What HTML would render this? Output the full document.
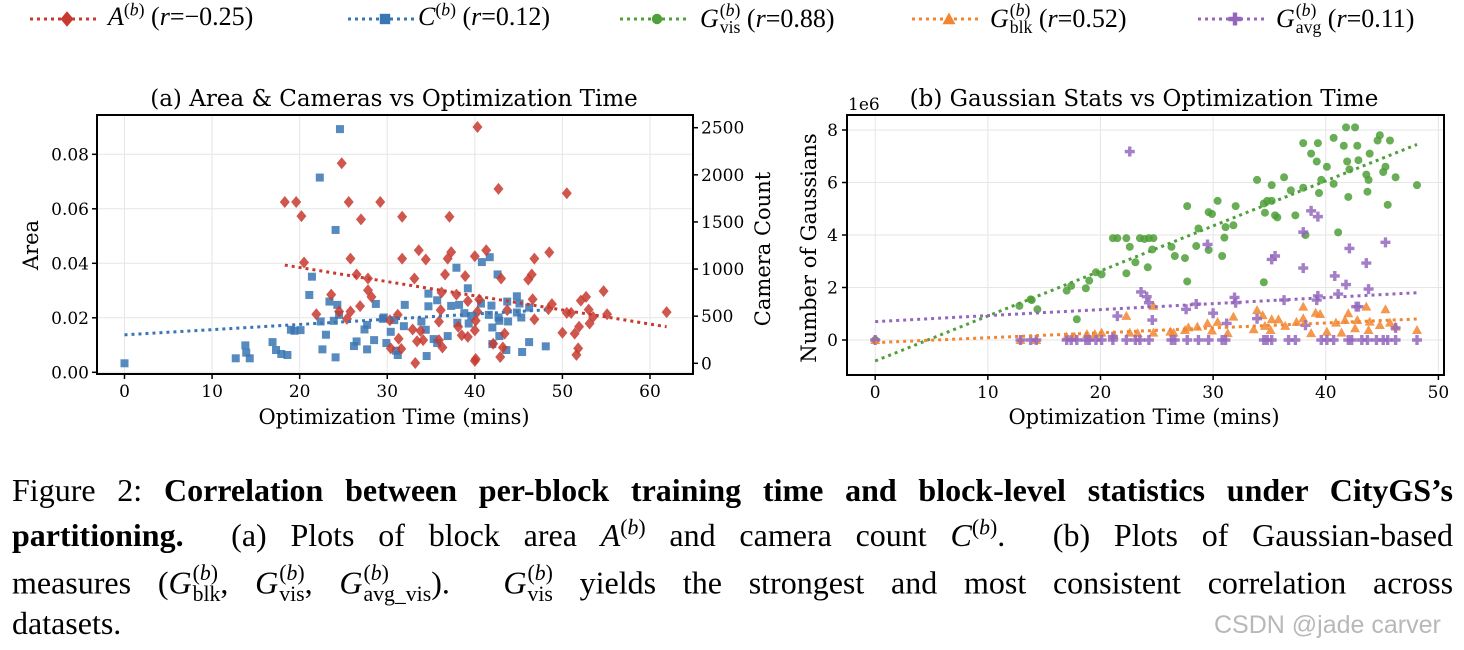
<!DOCTYPE html>
<html><head><meta charset="utf-8">
<style>
body{margin:0;background:#fff;}
#root{position:relative;width:1464px;height:650px;overflow:hidden;background:#fff;font-family:"DejaVu Serif","Liberation Serif",serif;}
.cap{position:absolute;left:12px;width:1441px;font-family:"Liberation Serif",serif;font-size:32px;line-height:32px;white-space:nowrap;color:#000;}
.j{text-align:justify;text-align-last:justify;white-space:normal;}
.st{display:inline-block;vertical-align:-0.32em;line-height:0.95;font-size:0.68em;margin-left:1px;text-align:left;}
.st .u{display:block;font-style:normal;}
.st .l{display:block;font-style:normal;}
sup{font-size:0.68em;line-height:0;}
.leg{position:absolute;top:2px;font-family:"Liberation Serif",serif;font-size:26px;white-space:nowrap;}
</style></head>
<body>
<div id="root">
<svg id="chart" width="1464" height="460" style="position:absolute;left:0;top:0"></svg>

<div class="leg" style="left:108px"><i>A</i><sup>(<i>b</i>)</sup> (<i>r</i>=−0.25)</div>
<div class="leg" style="left:418px"><i>C</i><sup>(<i>b</i>)</sup> (<i>r</i>=0.12)</div>
<div class="leg" style="left:700px"><i>G</i><span class="st"><span class="u">(<i>b</i>)</span><span class="l">vis</span></span> (<i>r</i>=0.88)</div>
<div class="leg" style="left:990px"><i>G</i><span class="st"><span class="u">(<i>b</i>)</span><span class="l">blk</span></span> (<i>r</i>=0.52)</div>
<div class="leg" style="left:1276px"><i>G</i><span class="st"><span class="u">(<i>b</i>)</span><span class="l">avg</span></span> (<i>r</i>=0.11)</div>

<div class="cap j" style="top:474px">Figure 2: <b>Correlation between per-block training time and block-level statistics under CityGS’s</b></div>
<div class="cap j" style="top:519px"><b>partitioning.</b>&nbsp; (a) Plots of block area <i>A</i><sup>(<i>b</i>)</sup> and camera count <i>C</i><sup>(<i>b</i>)</sup>.&nbsp; (b) Plots of Gaussian-based</div>
<div class="cap j" style="top:563px">measures (<i>G</i><span class="st"><span class="u">(<i>b</i>)</span><span class="l">blk</span></span>, <i>G</i><span class="st"><span class="u">(<i>b</i>)</span><span class="l">vis</span></span>, <i>G</i><span class="st"><span class="u">(<i>b</i>)</span><span class="l">avg_vis</span></span>).&nbsp; <i>G</i><span class="st"><span class="u">(<i>b</i>)</span><span class="l">vis</span></span> yields the strongest and most consistent correlation across</div>
<div class="cap" style="top:607px">datasets.</div>
<div style="position:absolute;left:1214px;top:611px;font-family:'Liberation Sans','Noto Sans CJK SC',sans-serif;font-size:25px;color:#b8b8b8;">CSDN @jade carver</div>
</div>
<script>
// ---- Panel (a) data ----
const areaTime=[40.3,24.8,42.7,50.5,18.3,19.6,25.6,29.2,20.2,27,31.7,37.1,33.6,37.3,41.3,48.5,20.5,25.8,31.7,34.4,36.9,40,46.8,26.5,27.8,33.1,36.6,38.9,43,46.5,46.1,23.6,27.8,28.2,36.2,37.9,39.2,40.5,46.6,48.8,52.1,52.7,54.7,21.9,24.5,25.8,26.9,25.4,31.2,36.1,40.3,43.7,48.4,50.5,51,53,53.5,55.1,61.9,30.3,35.9,40.1,46.8,53.1,32.9,33.8,38.1,38.5,40,43.4,50,51.9,51.4,31.3,33.4,34.1,35.9,39.2,42.1,30.4,31.6,36.3,43.2,51.8,51.6,42.9,40.1,40,33.2];
const areaValues=[0.09,0.0767,0.0673,0.0657,0.0625,0.0625,0.0625,0.0625,0.0573,0.0561,0.0571,0.0571,0.0448,0.0441,0.0448,0.044,0.0403,0.0417,0.0417,0.0414,0.0417,0.0426,0.0417,0.0359,0.0344,0.0344,0.0359,0.0353,0.0344,0.0359,0.034,0.0285,0.0301,0.0277,0.0293,0.0285,0.0261,0.0267,0.0268,0.025,0.0263,0.0277,0.0298,0.0213,0.0223,0.0223,0.0243,0.0196,0.0211,0.0228,0.0222,0.0228,0.0232,0.0218,0.0218,0.023,0.0203,0.0213,0.0221,0.0191,0.0186,0.0189,0.0194,0.0179,0.0157,0.0152,0.0167,0.0136,0.0154,0.0142,0.0145,0.0167,0.0142,0.0123,0.0114,0.0118,0.0118,0.013,0.0105,0.0088,0.0086,0.0091,0.0091,0.0088,0.0064,0.0056,0.0049,0.0042,0.0034];
const camTime=[0,24.6,22.3,24.1,21.4,21.1,23.4,24.3,28.7,32,34.7,35.7,34.7,37.3,38.2,37.9,39.2,40.8,41.7,42.6,40.7,41.9,43.7,44.8,45.1,46.2,44.8,45.3,41.6,38.8,39.6,39.3,42.7,42.8,43.8,22.4,23.9,24.5,29.5,30.8,29.6,33.9,38,27.7,31.9,19,19.4,20.1,27.4,30.4,34.4,42,23,36.9,42.8,26.5,28.5,29.9,35.3,35.7,42,46.2,48.1,16.9,13.8,26.2,27.7,22.6,31,43.6,45.4,17.3,13.9,17.9,18.6,31.2,34.5,12.7,14.3,24.1];
const camValues=[0,2485,1971,1415,919,725,655,620,630,620,739,669,605,609,620,1014,796,1074,1126,943,634,612,655,711,634,591,539,486,514,532,503,422,486,451,444,444,451,514,472,458,486,444,430,408,394,356,345,352,359,334,356,380,303,289,289,232,246,215,257,215,204,225,180,225,190,183,148,148,134,141,120,141,113,99,88,88,77,53,53,63];
const aXTicks=[0,10,20,30,40,50,60];
const aYTicks=[0,0.02,0.04,0.06,0.08];
const aYTickLabels=["0.00","0.02","0.04","0.06","0.08"];
const aY2Ticks=[0,500,1000,1500,2000,2500];
// ---- Panel (b) data ----
const visTime=[41.8,42.6,44.8,38,39.3,40.7,44.6,45.7,41.6,42.8,38.7,43.9,39.2,41.9,42.9,40.1,45.3,42.1,45.1,43.6,33.9,36.3,39.6,40.7,43.8,46.2,48.1,35.2,38,36.9,39.4,43.7,42,30.4,35.2,34.5,34.8,27.7,32,45.5,29.6,29.9,34.6,35.5,35.7,37.3,31.8,31.1,28.7,31,21.1,21.5,22.3,23.5,23.9,24.3,24.7,38.2,41.1,22.6,24.6,26.3,28.5,29.6,26.6,27.5,30.8,23.1,24.2,22.3,19.6,20.1,27.7,34.5,19,17,17.4,18.7,13.8,13.9,12.8,14.4,17.9,0];
const visValues=[8.1,8.1,7.8,7.5,7.5,7.7,7.6,7.6,7.4,7.4,7.1,7.1,6.8,6.8,6.85,6.6,6.6,6.5,6.4,6.3,6.1,6.2,6.1,5.95,6.1,6.2,5.9,5.9,5.8,5.7,5.6,5.65,5.45,5.3,5.3,5.2,5.3,5.1,5.1,5.15,4.87,4.8,4.85,4.75,4.67,4.75,4.37,4.3,4.25,3.9,3.88,3.88,3.88,3.88,3.85,3.88,3.88,4,4.1,3.55,3.45,3.55,3.58,3.43,3.2,3.12,3.2,2.96,2.77,2.54,2.58,2.5,2.23,2.2,2.26,1.88,2.06,1.97,1.55,1.52,1.3,1.17,0.79,0];
const blkTime=[24.7,22.3,33.9,38,31.8,45.3,43.6,39.1,39.5,42,34.4,35.2,35.8,36.4,37.4,38,29.5,30.4,28.6,27.5,27.8,40.9,41.7,42.8,43.9,45.7,48.1,46.2,44.8,42.6,40.1,38.7,34.6,35.1,33.6,26.2,26.5,24.7,23.3,22.6,20.1,19.5,18.8,17,17.7,31.3,29.9,12.9,14.3,21.2,0,43.8,41.4];
const blkValues=[1.3,0.92,1.14,1.27,0.89,1.17,1.27,1.04,0.99,1.02,0.95,0.79,0.79,0.54,0.69,0.83,0.64,0.69,0.51,0.38,0.48,0.66,0.76,0.76,0.7,0.66,0.38,0.51,0.57,0.45,0.32,0.26,0.54,0.38,0.41,0.32,0.28,0.28,0.26,0.28,0.28,0.23,0.23,0.13,0.13,0.26,0.36,0,0,0.18,0,0.38,0.28];
const avgTime=[22.6,38.7,39.3,38,29.5,42.1,45.3,35.2,35.5,38,43.6,40.8,41.8,43.8,31.9,39.3,41.1,28.5,27.6,42.7,32,36.3,39.2,23.6,24.1,24.3,21.5,24.6,30,33.9,38.2,31.2,42.9,46.2,21.1,0,12.9,13.8,14.3,17,17.4,17.9,18.7,19,19.6,20.1,21.1,22.3,23.1,23.5,24.3,26.3,26.6,27.7,28.7,29.6,30.8,31.1,34.5,34.8,35.2,36.7,37.3,39.6,40.1,40.7,42,42.3,43.2,43.7,44.5,45.1,45.5,46.2,48.1];
const avgValues=[7.18,4.92,4.7,4.11,3.64,3.49,3.72,3.07,3.2,2.74,2.93,2.44,2.11,1.94,1.62,1.68,1.75,1.37,1.17,1.27,1.42,1.52,1.52,1.83,1.65,1.42,0.91,0.76,1.02,0.81,0.56,0.63,1.27,0.46,0.13,0,0,0,0,0,0,0,0,0,0,0,0,0,0,0,0,0,0,0,0,0,0,0,0,0,0,0,0,0,0,0,0,0,0,0,0,0,0,0,0];
// trend lines: [startTime, endTime], [startValue, endValue]
const visTrendT=[0,48.1], visTrendV=[-0.8,7.45];
const blkTrendT=[0,48.1], blkTrendV=[-0.1,0.8];
const avgTrendT=[0,48.1], avgTrendV=[0.7,1.8];
const bXTicks=[0,10,20,30,40,50];
const bYTicks=[0,2,4,6,8];

const NS="http://www.w3.org/2000/svg";
const svg=document.getElementById('chart');
function mk(tag,attrs,parent){const e=document.createElementNS(NS,tag);for(const k in attrs)e.setAttribute(k,attrs[k]);(parent||svg).appendChild(e);return e;}
function lin(d0,d1,r0,r1){return v=>r0+(v-d0)/(d1-d0)*(r1-r0);}
function fit(xs,ys){const n=xs.length;let mx=0,my=0;for(let i=0;i<n;i++){mx+=xs[i];my+=ys[i];}mx/=n;my/=n;let sxy=0,sxx=0;for(let i=0;i<n;i++){sxy+=(xs[i]-mx)*(ys[i]-my);sxx+=(xs[i]-mx)**2;}const b=sxy/sxx;return {a:my-b*mx,b:b,x0:Math.min(...xs),x1:Math.max(...xs)};}
function txt(x,y,s,size,anchor,parent){const t=mk('text',{x:x,y:y,'font-size':size,'text-anchor':anchor||'middle','font-family':'DejaVu Serif, Liberation Serif, serif',fill:'#000'},parent);t.textContent=s;return t;}
function marker(g,shape,cx,cy,color){
  let e;
  if(shape==='diamond'){e=mk('polygon',{points:`${cx},${cy-6} ${cx+5},${cy} ${cx},${cy+6} ${cx-5},${cy}`},g);}
  else if(shape==='square'){e=mk('rect',{x:cx-4,y:cy-4,width:8,height:8},g);}
  else if(shape==='circle'){e=mk('circle',{cx:cx,cy:cy,r:4},g);}
  else if(shape==='triangle'){e=mk('polygon',{points:`${cx},${cy-5} ${cx+5},${cy+4} ${cx-5},${cy+4}`},g);}
  else {e=mk('path',{d:`M${cx-1.7},${cy-5}h3.4v3.3h3.3v3.4h-3.3v3.3h-3.4v-3.3h-3.3v-3.4h3.3z`},g);}
  e.setAttribute('fill',color);e.setAttribute('fill-opacity','0.85');
  return e;
}
const TICK=17, TITLE=23, AX=21;

// ===== Panel (a) =====
const aL=97,aR=693,aT=115,aB=374;
const ax=lin(0,60,124.5,650), ay=lin(0,0.08,372.3,154.3), ay2=lin(0,2500,363.3,127.7);
const ga=mk('g',{});


aXTicks.forEach(v=>{const l=mk('line',{x1:ax(v),x2:ax(v),y1:aT,y2:aB,stroke:'#e6e6e6','stroke-width':1},ga);});
aYTicks.forEach(v=>{const l=mk('line',{x1:aL,x2:aR,y1:ay(v),y2:ay(v),stroke:'#e6e6e6','stroke-width':1},ga);});
const ca=mk('g',{},ga);


camTime.forEach((t,i)=>{const m=marker(ca,'square',ax(t),ay2(camValues[i]),'#3a76b3');});
const ar=mk('g',{},ga);


areaTime.forEach((t,i)=>{const m=marker(ar,'diamond',ax(t),ay(areaValues[i]),'#c8392f');});
const fa=fit(areaTime,areaValues), fc=fit(camTime,camValues);
let tl=mk('line',{x1:ax(fa.x0),y1:ay(fa.a+fa.b*fa.x0),x2:ax(fa.x1),y2:ay(fa.a+fa.b*fa.x1),stroke:'#c8392f','stroke-width':3,'stroke-dasharray':'3,4'},ga);

tl=mk('line',{x1:ax(fc.x0),y1:ay2(fc.a+fc.b*fc.x0),x2:ax(fc.x1),y2:ay2(fc.a+fc.b*fc.x1),stroke:'#3a76b3','stroke-width':3,'stroke-dasharray':'3,4'},ga);

mk('rect',{x:aL,y:aT,width:aR-aL,height:aB-aT,fill:'none',stroke:'#000','stroke-width':2},ga);
aXTicks.forEach(v=>{mk('line',{x1:ax(v),x2:ax(v),y1:aB,y2:aB+5,stroke:'#000','stroke-width':1.5},ga);const t=txt(ax(v),aB+23,String(v),TICK,'middle',ga);});
aYTicks.forEach((v,i)=>{mk('line',{x1:aL-5,x2:aL,y1:ay(v),y2:ay(v),stroke:'#000','stroke-width':1.5},ga);const t=txt(aL-8,ay(v)+6,aYTickLabels[i],TICK,'end',ga);});
aY2Ticks.forEach(v=>{mk('line',{x1:aR,x2:aR+5,y1:ay2(v),y2:ay2(v),stroke:'#000','stroke-width':1.5},ga);const t=txt(aR+8,ay2(v)+6,String(v),TICK,'start',ga);});
let tt=txt(394,106,'(a) Area & Cameras vs Optimization Time',TITLE,'middle',ga);
tt=txt(394,424,'Optimization Time (mins)',AX,'middle',ga);
tt=txt(0,0,'Area',AX,'middle',ga);tt.setAttribute('transform','translate(38,245) rotate(-90)');
tt=txt(0,0,'Camera Count',AX,'middle',ga);tt.setAttribute('transform','translate(770,249) rotate(-90)');

// ===== Panel (b) =====
const bL=847,bR=1444,bT=115,bB=375;
const bx=lin(0,50,875.2,1438.4), by=lin(0,8,340,130);
const gb=mk('g',{});


bXTicks.forEach(v=>{const l=mk('line',{x1:bx(v),x2:bx(v),y1:bT,y2:bB,stroke:'#e6e6e6','stroke-width':1},gb);});
bYTicks.forEach(v=>{const l=mk('line',{x1:bL,x2:bR,y1:by(v),y2:by(v),stroke:'#e6e6e6','stroke-width':1},gb);});
const series=[
 {name:'gvis',t:visTime,v:visValues,tt:visTrendT,tv:visTrendV,shape:'circle',color:'#4f9f3a'},
 {name:'gblk',t:blkTime,v:blkValues,tt:blkTrendT,tv:blkTrendV,shape:'triangle',color:'#f28630'},
 {name:'gavg',t:avgTime,v:avgValues,tt:avgTrendT,tv:avgTrendV,shape:'plus',color:'#9467bd'}];
series.forEach(s=>{
  const g=mk('g',{},gb);
  
  
  s.t.forEach((t,i)=>{const m=marker(g,s.shape,bx(t),by(s.v[i]),s.color);});
});
series.forEach(s=>{
  const l=mk('line',{x1:bx(s.tt[0]),y1:by(s.tv[0]),x2:bx(s.tt[1]),y2:by(s.tv[1]),stroke:s.color,'stroke-width':3,'stroke-dasharray':'3,4'},gb);
  
  
});
mk('rect',{x:bL,y:bT,width:bR-bL,height:bB-bT,fill:'none',stroke:'#000','stroke-width':2},gb);
bXTicks.forEach(v=>{mk('line',{x1:bx(v),x2:bx(v),y1:bB,y2:bB+5,stroke:'#000','stroke-width':1.5},gb);const t=txt(bx(v),bB+23,String(v),TICK,'middle',gb);});
bYTicks.forEach(v=>{mk('line',{x1:bL-5,x2:bL,y1:by(v),y2:by(v),stroke:'#000','stroke-width':1.5},gb);const t=txt(bL-9,by(v)+6,String(v),TICK,'end',gb);});
tt=txt(848,110,'1e6',TICK,'start',gb);
tt=txt(1144,106,'(b) Gaussian Stats vs Optimization Time',TITLE,'middle',gb);
tt=txt(1144,424,'Optimization Time (mins)',AX,'middle',gb);
tt=txt(0,0,'Number of Gaussians',AX,'middle',gb);tt.setAttribute('transform','translate(816,248) rotate(-90)');

// ===== Legend =====
const legItems=[{x:30,shape:'diamond',color:'#c8392f',n:'area'},{x:348,shape:'square',color:'#3a76b3',n:'cameras'},{x:620,shape:'circle',color:'#4f9f3a',n:'gvis'},{x:912,shape:'triangle',color:'#f28630',n:'gblk'},{x:1198,shape:'plus',color:'#9467bd',n:'gavg'}];
legItems.forEach(it=>{
  const g=mk('g',{});
  
  
  mk('line',{x1:it.x,x2:it.x+70,y1:19,y2:19,stroke:it.color,'stroke-width':3,'stroke-dasharray':'3,4'},g);
  const m=marker(g,it.shape,it.x+37,19,it.color);m.setAttribute('fill-opacity','1');
  m.setAttribute('transform','translate('+(it.x+37)+',19) scale(1.3) translate('+(-(it.x+37))+',-19)');
});
</script>
</body></html>
